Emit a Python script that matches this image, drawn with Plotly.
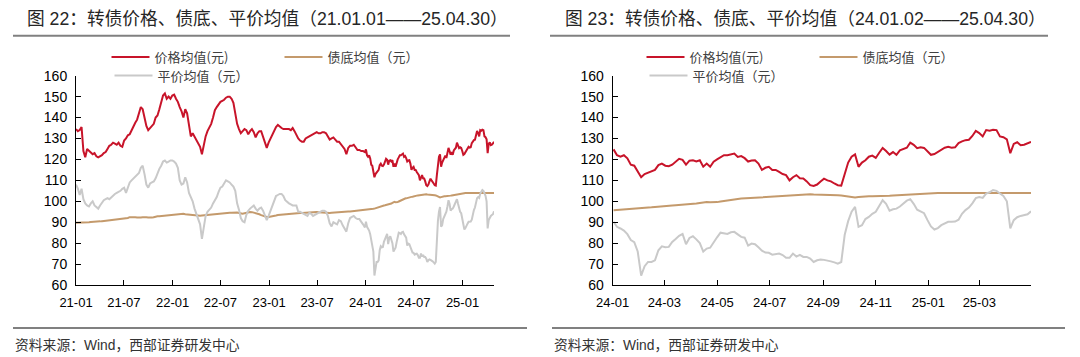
import pandas as pd
import plotly.graph_objects as go

W, H = 1080, 357
OFF = 8  # the page body adds an 8px margin; positions below are in window pixels

# ---------------- data ----------------
# weekly readings 2021-01-01 .. 2023-12-29
DATES_A = pd.date_range("2021-01-01", "2023-12-29", freq="7D")
# 4-day readings 2024-01-02 .. 2025-04-30
DATES_B = pd.date_range("2024-01-02", "2025-04-30", freq="4D")

PRICE_A = [
    134.5, 133.5, 134, 135.5, 124, 121, 125, 124, 123.5, 122.5,
    123, 121.5, 121, 121.5, 122, 123, 123.5, 125, 126.5, 127,
    128, 127.5, 127, 128, 126.5, 126, 129, 130, 131.5, 132,
    134, 136, 137.5, 139, 142, 145, 144, 140, 136, 134,
    135, 136, 137, 140, 141, 144, 147, 150.5, 151.5, 149,
    150, 149, 150.5, 151, 149, 147.5, 145, 143, 140, 144,
    142, 136, 131, 132.5, 131, 129.5, 128, 126, 122.5, 127.5,
    131, 133.5, 135.5, 137, 140, 143.5, 145, 146.5, 147.5, 148,
    148.5, 149.5, 150, 150, 149, 147, 141, 137, 134.5, 132.5,
    133.5, 134.5, 134, 132, 133.5, 134.5, 133, 130.5, 132.5, 133.5,
    133.5, 131, 127.5, 125.5, 128, 130, 131.5, 134, 135.5, 136.5,
    135.5, 135, 134.5, 134.5, 134.8, 134.5, 134, 135, 133.5, 131.5,
    130, 129, 128.5, 128.5, 130, 130.5, 131, 131.5, 132, 132.5,
    133, 132.5, 132.5, 133, 133, 132.5, 131, 129.5, 130, 130.5,
    129.5, 128.5, 128.5, 127.5, 126.5, 125, 122.5, 125.5, 126.5, 126.5,
    127, 125.5, 124.5, 124.5, 124, 124, 123.5,
]
FLOOR_A = [
    89.7, 89.7, 89.8, 89.8, 89.9, 89.9, 90.0, 90.0, 90.1, 90.1, 90.2, 90.3, 90.4, 90.4, 90.5,
    90.6, 90.7, 90.8, 90.9, 91.0, 91.1, 91.2, 91.2, 91.3, 91.4,
    91.5, 91.6, 91.7, 92.0, 92.4, 92.5,
    92.5, 92.4, 92.3, 92.2, 92.3, 92.4, 92.5, 92.4, 92.3, 92.2,
    92.2, 92.4, 92.7, 92.8, 92.9, 93.0, 93.0, 93.1, 93.2, 93.3,
    93.4, 93.5, 93.6, 93.7, 93.8, 93.9, 94.1, 94.0, 93.8, 93.7,
    93.6, 93.5, 93.4, 93.2, 93.0, 93.0, 93.1, 93.2, 93.3, 93.4,
    93.6, 93.7, 93.8, 93.9, 94.0, 94.1, 94.1, 94.1, 94.2, 94.3,
    94.4, 94.4, 94.5, 94.5, 94.6, 94.6, 94.6, 94.4, 94.2, 94.1,
    94.3, 94.6, 94.8, 94.9, 94.8, 94.6, 94.4, 94.2, 93.8, 93.4,
    93.0, 92.7, 92.5, 92.5, 92.6, 92.8, 93.0, 93.2, 93.4, 93.5, 93.7, 93.8,
    93.8, 93.8, 93.9, 93.9, 94.0, 94.1, 94.2, 94.3, 94.4, 94.4,
    94.5, 94.6, 94.7, 94.8, 94.8, 94.9, 94.9, 94.9, 94.8, 94.7,
    94.6, 94.5, 94.5, 94.4, 94.4, 94.5, 94.6, 94.7, 94.8, 94.9,
    94.9, 95.0, 95.0, 95.0, 95.1, 95.1, 95.2, 95.2, 95.3, 95.3, 95.4, 95.5, 95.6, 95.6,
]
PARITY_A = [
    108, 106, 103, 106, 101, 99, 98, 97.5, 99, 100,
    98, 97, 96.5, 98, 99.5, 100.5, 101, 101.5, 101, 102,
    103, 103.5, 104, 104.5, 105, 106, 106.5, 104, 107, 109,
    110, 111, 111.5, 112.5, 113.5, 116, 117, 113, 108, 106.5,
    108.5, 109, 109.5, 111, 113.5, 115.5, 117, 119, 119.5, 118.5,
    119, 119.5, 119.5, 119, 118, 116, 110, 108, 108.5, 111.5,
    109, 104, 102, 100, 96.5, 94, 92.5, 89, 82, 88,
    93, 95, 96, 97, 99, 100.5, 102, 104.5, 106.5, 107,
    108.5, 110, 109.5, 109, 108, 107, 105, 99, 96, 92,
    90.5, 90, 93.5, 95.5, 96.5, 97.5, 98, 96.5, 95.5, 96.5,
    97, 95.5, 93, 91, 93, 95.5, 98, 100.5, 102.5, 103,
    103.5, 103.5, 102.5, 100.5, 99.5, 99, 98.5, 98, 98, 98,
    95, 95, 94.5, 94, 93.5, 93, 94.5, 94, 93, 93.5,
    94, 94.5, 95, 95.5, 95.5, 95, 93, 89.5, 88, 90,
    89.5, 89, 91, 90.5, 88.5, 87, 85.5, 89.5, 92, 92.5,
    93, 92, 91.5, 91.5, 90.5, 89, 87.5,
]

PRICE_B = [
    124.8, 122, 121.3, 122, 120.5, 117.5, 117, 114.5, 111.5, 113,
    113.8, 114.2, 115, 117.3, 118, 117, 116.8, 117.5, 118.7, 120.3,
    119.8, 117.5, 119.4, 119.6, 119, 119.6, 116.5, 118, 116.5, 118.9,
    120, 121, 122, 122, 122.5, 122.8, 121.2, 121.6, 120.6, 119,
    119.5, 119.6, 118, 115, 116, 116.5, 115, 115, 114, 113,
    112.5, 110, 111.5, 112.5, 111, 110.9, 109.5, 107.7, 107.3, 108,
    109.5, 110.8, 110, 109.5, 108.5, 107.7, 107.5, 112.5, 118.5, 121.3,
    122.4, 116.5, 118.5, 119.6, 121.3, 121.8, 120.7, 123.2, 125.5, 124,
    122.3, 123.5, 122.2, 124.3, 124.8, 125.6, 128, 127, 125.4, 125.8,
    125.5, 124, 122.2, 122.6, 123.5, 124.5, 125.6, 126, 125.6, 125.8,
    127.8, 128.6, 129.2, 129.4, 131.2, 133.6, 132.6, 131, 134, 133.7,
    134.2, 134, 131, 130.6, 129.6, 123, 127.4, 128.2, 126.8, 127,
    127.6, 128.4,
]
FLOOR_B = [
    95.7, 95.8, 95.9, 96.0, 96.1, 96.2, 96.3, 96.4, 96.5, 96.7,
    96.9, 97.1, 97.3, 97.5, 97.7, 97.8, 97.9, 98.0, 98.1, 98.2,
    98.3, 98.4, 98.5, 98.7, 98.9, 99.2, 99.5, 99.7, 99.5, 99.4,
    99.6, 99.9, 100.2, 100.5, 100.7, 100.9, 101.1, 101.3, 101.4, 101.6,
    101.7, 101.8, 102.0, 102.1, 102.2, 102.4, 102.5, 102.6, 102.7, 102.8,
    102.9, 102.9, 103.0, 103.2, 103.3, 103.4, 103.4, 103.3, 103.2, 103.2,
    103.2, 103.2, 103.1, 103.1, 103.0, 102.9, 102.8, 102.6, 102.2, 101.9,
    101.8, 102.0, 102.2, 102.3, 102.4, 102.4, 102.4, 102.5, 102.5, 102.6,
    102.7, 102.8, 102.9, 103.0, 103.1, 103.3, 103.5, 103.6, 103.7, 103.8,
    103.9, 103.9, 104.0, 104.0, 104.0, 104.0, 104.0, 104.1, 104.1, 104.1,
    104.2, 104.2, 104.2, 104.2, 104.1, 104.1, 104.0, 104.0, 104.0, 104.0,
    104.0, 104.1, 104.0, 104.0, 104.1, 104.2, 104.1, 104.2, 104.1, 104.0,
    104.0, 103.9,
]
PARITY_B = [
    90.2, 87.8, 87, 86, 84.3, 81.5, 80.5, 76, 64.5, 69,
    71, 71, 71.8, 76.6, 78.5, 78, 78.2, 80.6, 82, 83.5,
    84.4, 79.5, 82.5, 83.3, 81.8, 80, 76, 77.4, 77.8, 80.5,
    82.8, 85, 84.8, 84.4, 85.2, 85.4, 84.2, 83, 82.6, 78.8,
    79.8, 79.5, 78, 76.4, 75.5, 75.4, 74.5, 74.8, 75, 74.3,
    73, 73, 75, 73.6, 74.4, 73.4, 73.4, 72.6, 71, 71.8,
    72.2, 72, 71.8, 71.3, 70.8, 70.2, 71, 84, 90.5, 95,
    97.3, 87.8, 88.6, 91.5, 92.5, 94, 95, 97.5, 100.5, 98.8,
    95.5, 96.2, 96.5, 97.5, 98.8, 100.3, 101, 98.8, 96, 95,
    94.3, 91, 88, 86.5, 87.2, 88.6, 89.3, 90.2, 90.2, 90.3,
    91.2, 94, 95.8, 97, 99, 101.5, 102, 101.6, 103.7, 104.3,
    105.4, 105, 103.7, 102.6, 100, 87, 91, 92.4, 93, 93.4,
    93.8, 95.2,
]

SERIES_NAMES = ["价格均值(元)", "债底均值（元）", "平价均值（元）"]
SERIES_COLORS = ["#C8142A", "#C49A6C", "#C9C9C9"]

TITLE_L = "图 22：转债价格、债底、平价均值（21.01.01——25.04.30）"
TITLE_R = "图 23：转债价格、债底、平价均值（24.01.02——25.04.30）"
SOURCE = "资料来源：Wind，西部证券研发中心"

XTICKS_L = ["2021-01-01", "2021-07-01", "2022-01-01", "2022-07-01", "2023-01-01",
            "2023-07-01", "2024-01-01", "2024-07-01", "2025-01-01"]
XLABELS_L = ["21-01", "21-07", "22-01", "22-07", "23-01", "23-07", "24-01", "24-07", "25-01"]
XTICKS_R = ["2024-01-01", "2024-03-01", "2024-05-01", "2024-07-01", "2024-09-01",
            "2024-11-01", "2025-01-01", "2025-03-01"]
XLABELS_R = ["24-01", "24-03", "24-05", "24-07", "24-09", "24-11", "25-01", "25-03"]

for a, b in [(PRICE_A, DATES_A), (FLOOR_A, DATES_A), (PARITY_A, DATES_A),
             (PRICE_B, DATES_B), (FLOOR_B, DATES_B), (PARITY_B, DATES_B)]:
    assert len(a) == len(b), (len(a), len(b))

dates_all = list(DATES_A) + list(DATES_B)
full = [PRICE_A + PRICE_B, FLOOR_A + FLOOR_B, PARITY_A + PARITY_B]
recent = [PRICE_B, FLOOR_B, PARITY_B]

# ---------------- figure ----------------
def fx(p):
    return (p - OFF) / W

def fy(p):
    return 1 - (p - OFF) / H

LATIN_CJK = "Liberation Sans, Arial, Noto Sans CJK SC"
CJK = "Noto Sans CJK SC, Liberation Sans"

fig = go.Figure()

legend_pos = {
    # (line start x px, center y px)
    0: [(110, 57), (283, 57), (113, 75.5)],
    1: [(645, 57), (818, 57), (648, 75.5)],
}

ln = 1
for panel, (xs, ys_list, xa, ya) in enumerate([
    (dates_all, full, "x", "y"),
    (list(DATES_B), recent, "x2", "y2"),
]):
    for i, ys in enumerate(ys_list):
        lname = "legend" if ln == 1 else f"legend{ln}"
        fig.add_trace(go.Scatter(
            x=xs, y=ys, mode="lines", name=SERIES_NAMES[i],
            line=dict(color=SERIES_COLORS[i], width=2),
            xaxis=xa, yaxis=ya, legend=lname, showlegend=True,
        ))
        lx, lyc = legend_pos[panel][i]
        fig.layout[lname] = dict(
            x=fx(lx - 3.5), y=fy(lyc), xanchor="left", yanchor="middle",
            bgcolor="rgba(0,0,0,0)", borderwidth=0, itemwidth=38,
            font=dict(family=CJK, size=13, color="#404040"),
            orientation="h", itemclick=False, itemdoubleclick=False,
        )
        ln += 1

axis_common = dict(
    showline=True, linecolor="#000000", linewidth=1,
    ticks="inside", ticklen=5, tickcolor="#000000", tickwidth=1,
    showgrid=False, zeroline=False, automargin=False,
)
xfont = dict(family=LATIN_CJK, size=13, color="#000000")
yfont = dict(family=LATIN_CJK, size=14, color="#000000")
y_dom = [fy(285), fy(75.7)]

fig.update_layout(
    width=W, height=H,
    margin=dict(l=0, r=0, t=0, b=0, pad=0, autoexpand=False),
    paper_bgcolor="white", plot_bgcolor="white",
    xaxis=dict(domain=[fx(76), fx(494)], anchor="y", type="date",
               range=["2021-01-01", "2025-04-30"], ticklabelstandoff=5,
               tickvals=XTICKS_L, ticktext=XLABELS_L, tickfont=xfont, **axis_common),
    yaxis=dict(domain=y_dom, anchor="x", range=[60, 160], tick0=60, dtick=10,
               ticklabelstandoff=5, tickfont=yfont, **axis_common),
    xaxis2=dict(domain=[fx(612.7), fx(1031)], anchor="y2", type="date",
                range=["2024-01-01", "2025-04-30"], ticklabelstandoff=5,
                tickvals=XTICKS_R, ticktext=XLABELS_R, tickfont=xfont, **axis_common),
    yaxis2=dict(domain=y_dom, anchor="x2", range=[60, 160], tick0=60, dtick=10,
                ticklabelstandoff=5, tickfont=yfont, **axis_common),
)

annotations = []
shapes = []
for title, tx, rule_top, rule_bot, src_x in [
    (TITLE_L, 25, (13, 510), (13, 527), 13),
    (TITLE_R, 563, (550, 1048), (552, 1065), 552),
]:
    annotations.append(dict(
        text=title, x=fx(tx), y=fy(18.5), xref="paper", yref="paper",
        xanchor="left", yanchor="middle", showarrow=False,
        font=dict(family=LATIN_CJK, size=17.7, color="#262626"),
    ))
    annotations.append(dict(
        text=SOURCE, x=fx(src_x), y=fy(345), xref="paper", yref="paper",
        xanchor="left", yanchor="middle", showarrow=False,
        font=dict(family=LATIN_CJK, size=13.8, color="#333333"),
    ))
    shapes.append(dict(type="line", xref="paper", yref="paper",
                       x0=fx(rule_top[0]), x1=fx(rule_top[1]), y0=fy(35.7), y1=fy(35.7),
                       line=dict(color="#808080", width=2)))
    shapes.append(dict(type="line", xref="paper", yref="paper",
                       x0=fx(rule_bot[0]), x1=fx(rule_bot[1]), y0=fy(328), y1=fy(328),
                       line=dict(color="#808080", width=2)))

fig.update_layout(annotations=annotations, shapes=shapes)

fig.write_html("out.html")
